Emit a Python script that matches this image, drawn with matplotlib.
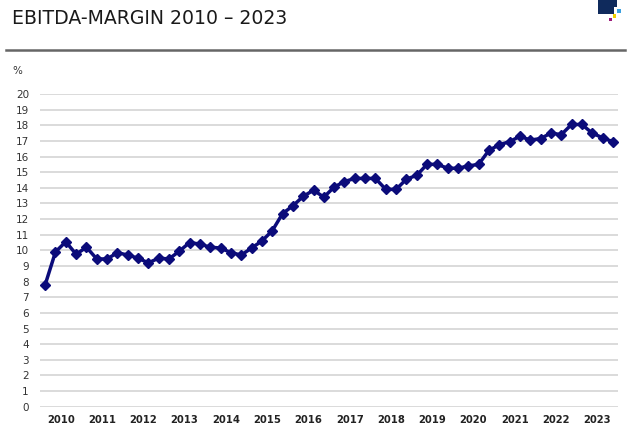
import matplotlib
matplotlib.use("Agg")
import matplotlib.pyplot as plt
from matplotlib.patches import Rectangle
from matplotlib.lines import Line2D

years = [str(y) for y in range(2010, 2024)]
margin = [7.8, 9.9, 10.55, 9.75,
          10.2, 9.45, 9.45, 9.85,
          9.7, 9.5, 9.2, 9.5,
          9.45, 9.95, 10.5, 10.4,
          10.2, 10.15, 9.85, 9.7,
          10.15, 10.6, 11.25, 12.35,
          12.85, 13.45, 13.85, 13.4,
          14.05, 14.4, 14.6, 14.6,
          14.6, 13.9, 13.9, 14.55,
          14.8, 15.5, 15.5, 15.25,
          15.25, 15.4, 15.5, 16.4,
          16.75, 16.95, 17.3, 17.05,
          17.15, 17.5, 17.4, 18.05,
          18.05, 17.5, 17.2, 16.95]
yticks = list(range(0, 21))

fig = plt.figure(figsize=(6.4, 4.32), dpi=100)
ax = fig.add_axes([40/640, 1-406.7/432, 578/640, (406.7-94)/432])

x = list(range(len(margin)))
ax.plot(x, margin, color="#0b0b7a", lw=2.5, marker="D", ms=5,
        markeredgecolor="#0b0b7a", markerfacecolor="#0b0b7a", zorder=3)

ax.set_xlim(-0.5, len(margin) - 0.5)
ax.set_ylim(0, 20)
ax.set_yticks(yticks)
ax.set_yticklabels([str(t) for t in yticks], fontsize=7.5, color="#333333")
ax.set_xticks([1.5 + 4*i for i in range(len(years))])
ax.set_xticklabels(years, fontsize=7.2, color="#222222", fontweight="semibold")
ax.tick_params(axis="both", length=0)
ax.tick_params(axis="y", pad=8)
ax.tick_params(axis="x", pad=6)
ax.grid(axis="y", color="#dadada", lw=1.4)
ax.set_axisbelow(True)
for s in ax.spines.values():
    s.set_visible(False)

fig.text(12/640, 1-19/432, "EBITDA-MARGIN 2010 – 2023", fontsize=13.6,
         color="#1a1a1a", va="center", ha="left")
fig.add_artist(Line2D([6/640, 625/640], [1-50/432, 1-50/432],
                      color="#666666", lw=1.8, transform=fig.transFigure))
fig.text(12/640, 1-71/432, "%", fontsize=7.5, color="#333333",
         va="center", ha="left")

# logo
def rect(x0, y0, w, h, c):
    fig.add_artist(Rectangle((x0/640, 1-(y0+h)/432), w/640, h/432,
                             transform=fig.transFigure, color=c, lw=0))
rect(598, 0, 16, 14, "#0f2a5c")
rect(614, 0, 3, 7, "#0f2a5c")
rect(617, 9, 4, 4, "#3aa0e0")
rect(613, 14, 3, 4, "#f0d000")
rect(609, 18, 3, 3, "#9c1a7a")

fig.savefig("out.png", dpi=100)
